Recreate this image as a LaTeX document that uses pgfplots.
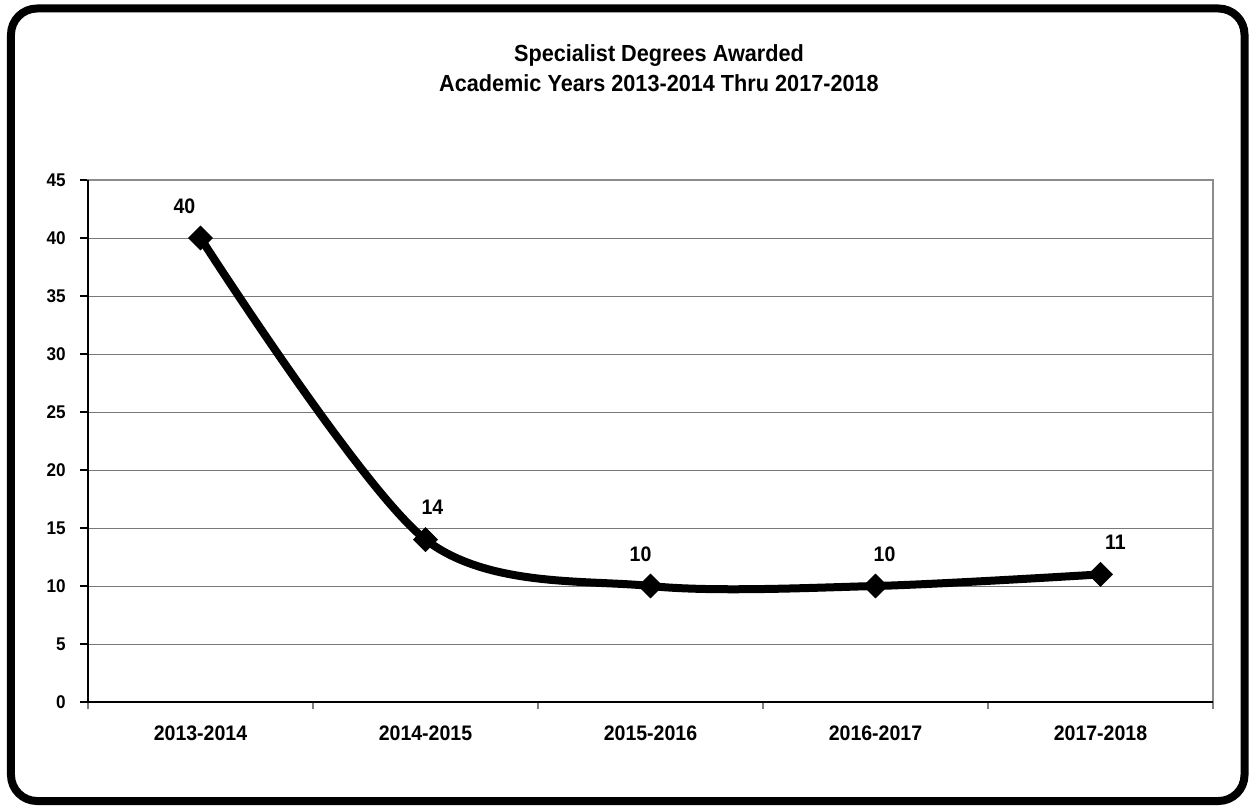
\documentclass[border=0pt]{standalone}
\usepackage{fontspec}
\setmainfont{Liberation Sans}[FakeStretch=0.93]
\usepackage{pgfplots}
\pgfplotsset{compat=1.18}
\definecolor{gridgray}{RGB}{120,120,120}
\definecolor{boxgray}{RGB}{140,140,140}
\begin{document}
\begin{tikzpicture}
\begin{axis}[
  at={(0,0)}, anchor=south west, scale only axis,
  width=562.5pt, height=261pt,
  xmin=-0.5, xmax=4.5, ymin=0, ymax=45,
  xtick={0,1,2,3,4},
  xticklabels={2013-2014,2014-2015,2015-2016,2016-2017,2017-2018},
  minor xtick={-0.5,0.5,1.5,2.5,3.5,4.5},
  ytick={0,5,...,45},
  xtick pos=bottom, ytick pos=left,
  tick align=outside,
  major tick length=4pt, minor tick length=3.5pt,
  every major x tick/.append style={draw=none},
  every minor x tick/.append style={draw=gray, line width=0.6pt},
  every major y tick/.append style={draw=black, line width=0.6pt},
  yticklabel style={font=\fontsize{9.2}{10}\selectfont\bfseries, inner sep=0pt, anchor=east, xshift=-7pt},
  xticklabel style={font=\fontsize{10.5}{12}\selectfont\bfseries, inner sep=0pt, anchor=base, yshift=-15.25pt},
  ymajorgrids, major grid style={gridgray, line width=0.5pt},
  axis line style={boxgray, line width=1pt},
  /pgf/number format/assume math mode=true,
  clip=false,
]
\addplot[black, line width=4pt, smooth,
  mark=square*, mark size=4.25pt, mark options={solid, line width=0.3pt, rotate=45},
  nodes near coords,
  visualization depends on=\thisrow{dx}\as\dx,
  every node near coord/.append style={anchor=center, inner sep=0pt, xshift=\dx pt, yshift=16pt, font=\fontsize{10.5}{12}\selectfont\bfseries, black},
] table {
x y dx
0 40 -8
1 14 3.5
2 10 -5
3 10 4.5
4 11 7.5
};
\draw[black, line width=0.8pt] (rel axis cs:0,1) -- (rel axis cs:0,0) -- (rel axis cs:1,0);
\end{axis}
\node[anchor=base, inner sep=0pt, font=\fontsize{11.65}{14}\selectfont\bfseries] at (285.5pt,320.15pt) {Specialist Degrees Awarded};
\node[anchor=base, inner sep=0pt, font=\fontsize{11.65}{14}\selectfont\bfseries] at (285.5pt,305.15pt) {Academic Years 2013-2014 Thru 2017-2018};
\draw[line width=4pt, rounded corners=13pt] (-38.5pt,-49.5pt) rectangle (578.25pt,346.75pt);
\pgfresetboundingbox
\path (-44pt,-51.5pt) rectangle (580.5pt,351pt);
\end{tikzpicture}
\end{document}
